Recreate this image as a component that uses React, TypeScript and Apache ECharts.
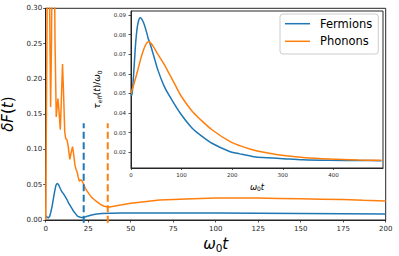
import React, { useEffect, useRef } from "react";
import * as echarts from "echarts";

// ---- Main plot data: deltaF(t) ----
const fermT = [0, 0.8, 1.5, 2.3, 3, 3.8, 4.5, 5.3, 6, 6.8, 7.6, 8.5, 9.5, 10.5, 11.5, 12.5, 13.5, 14.5, 15.5, 16.5, 17.5, 18.5, 19.5, 20.5, 21.5, 22.5, 23.5, 25, 27, 30, 33, 38, 45, 55, 67, 80, 100, 125, 150, 175, 200];
const fermF = [0.006, 0.004, 0.003, 0.005, 0.011, 0.02, 0.03, 0.041, 0.049, 0.052, 0.05, 0.045, 0.04, 0.037, 0.033, 0.029, 0.024, 0.02, 0.016, 0.012, 0.009, 0.006, 0.0045, 0.004, 0.0037, 0.0037, 0.0045, 0.0058, 0.0072, 0.0085, 0.0092, 0.0096, 0.0098, 0.0099, 0.01, 0.01, 0.0098, 0.0095, 0.0092, 0.0089, 0.0086];

const phonT = [0, 0.7, 1.2, 2.0, 2.5, 2.9, 3.4, 4.0, 4.8, 5.5, 6.2, 6.7, 7.2, 7.8, 8.6, 9.2, 9.9, 10.5, 11.2, 11.8, 12.5, 13.2, 14.2, 15.0, 15.8, 16.5, 17.2, 17.8, 18.5, 19.2, 19.8, 20.5, 21.2, 22.1, 23.1, 24.1, 25.5, 27, 28.5, 30, 32, 34, 36.8, 40, 45, 50, 58, 67, 75, 87, 100, 112, 125, 137, 150, 162, 175, 187, 200];
const phonF = [0.0, 0.25, 0.42, 0.4, 0.25, 0.16, 0.25, 0.45, 0.45, 0.25, 0.146, 0.16, 0.172, 0.155, 0.128, 0.17, 0.221, 0.18, 0.125, 0.115, 0.114, 0.105, 0.086, 0.096, 0.104, 0.092, 0.078, 0.072, 0.068, 0.06, 0.055, 0.057, 0.056, 0.052, 0.046, 0.042, 0.037, 0.032, 0.029, 0.026, 0.0225, 0.0198, 0.018, 0.0195, 0.0215, 0.0236, 0.026, 0.0283, 0.029, 0.03, 0.031, 0.031, 0.031, 0.0305, 0.03, 0.0295, 0.029, 0.028, 0.027];

// dashed markers (time, top value)
const fermDashT = 22.35;
const phonDashT = 36.5;
const dashBottom = -0.004;
const dashTop = 0.137;

// ---- Inset data: tau_eff(t)/omega_0 ----
const insFermT = [0, 1.5, 3, 5, 7, 9, 12, 15, 18, 21, 24, 27, 31, 34, 37.5, 44, 53, 65, 76, 97, 120, 136, 160, 196, 215, 240, 260, 294, 340, 393, 450, 495];
const insFerm = [0.05, 0.049, 0.052, 0.059, 0.067, 0.075, 0.083, 0.087, 0.0885, 0.088, 0.0865, 0.0845, 0.081, 0.078, 0.0754, 0.07, 0.062, 0.054, 0.0487, 0.04, 0.0325, 0.029, 0.0246, 0.0203, 0.0192, 0.0179, 0.0173, 0.0169, 0.0162, 0.0159, 0.0158, 0.0157];
const insPhonT = [0, 4, 8, 12, 16, 20, 24, 28, 32, 35, 38, 44, 53, 65, 76, 88, 99, 120, 136, 160, 196, 215, 240, 260, 294, 340, 393, 450, 495];
const insPhon = [0.05, 0.0533, 0.0568, 0.0605, 0.0645, 0.0683, 0.0716, 0.0743, 0.0759, 0.0763, 0.0759, 0.074, 0.07, 0.065, 0.0598, 0.054, 0.0487, 0.0412, 0.037, 0.0315, 0.0254, 0.0234, 0.0213, 0.0201, 0.0186, 0.0174, 0.0166, 0.0161, 0.0159];

// tick values
const insXTicks = [0, 100, 200, 300, 400];
const insYTicks = [0.02, 0.03, 0.04, 0.05, 0.06, 0.07, 0.08, 0.09];

const BLUE = "#1f77b4";
const ORANGE = "#ff7f0e";
const INK = "#262626";
const FONT = "DejaVu Sans";

const pairs = (xs: number[], ys: number[]) => xs.map((x, i) => [x, ys[i]]);

export default function App() {
  const ref = useRef<HTMLDivElement>(null);
  useEffect(() => {
    if (!ref.current) return;
    const chart = echarts.init(ref.current, null, { renderer: "svg" });
    const axisCommon = {
      axisLine: { show: true, onZero: false, lineStyle: { color: INK, width: 1 } },
      axisTick: { show: true, inside: false, length: 2.5, lineStyle: { color: INK, width: 0.8 } },
      splitLine: { show: false },
    };
    chart.setOption({
      animation: false,
      backgroundColor: "#ffffff",
      textStyle: { fontFamily: FONT },
      grid: [
        { left: 45.7, top: 8.3, width: 340, height: 211.7, show: true, borderColor: INK, borderWidth: 1, backgroundColor: "transparent", outerBoundsMode: "none" },
        { left: 131, top: 11, width: 252, height: 157, show: true, borderColor: INK, borderWidth: 1, backgroundColor: "#ffffff", z: 5, outerBoundsMode: "none" },
      ],
      xAxis: [
        {
          ...axisCommon,
          gridIndex: 0,
          type: "value",
          min: 0,
          max: 200,
          interval: 25,
          axisLabel: { color: INK, fontSize: 7, margin: 5, fontFamily: FONT },
          name: "{i|ω}{s|0}{i|t}",
          nameLocation: "middle",
          nameGap: 11,
          nameTextStyle: {
            rich: {
              i: { fontSize: 15, fontStyle: "italic", fontFamily: FONT, color: "#000", lineHeight: 18 },
              s: { fontSize: 10.5, fontFamily: FONT, color: "#000", verticalAlign: "bottom", lineHeight: 10 },
            },
          },
        },
        {
          ...axisCommon,
          gridIndex: 1,
          type: "value",
          min: 0,
          max: 498,
          z: 6,
          axisLabel: { color: INK, fontSize: 5.5, margin: 3.5, fontFamily: FONT, customValues: insXTicks },
          axisTick: { ...axisCommon.axisTick, length: 2, customValues: insXTicks },
          name: "{i|ω}{s|0}{i|t}",
          nameLocation: "middle",
          nameGap: 10,
          nameTextStyle: {
            rich: {
              i: { fontSize: 8.5, fontStyle: "italic", fontFamily: FONT, color: "#000", lineHeight: 10 },
              s: { fontSize: 6, fontFamily: FONT, color: "#000", verticalAlign: "bottom", lineHeight: 6 },
            },
          },
        },
      ],
      yAxis: [
        {
          ...axisCommon,
          gridIndex: 0,
          type: "value",
          min: 0,
          max: 0.3,
          interval: 0.05,
          axisLabel: { color: INK, fontSize: 7, margin: 3.5, fontFamily: FONT, formatter: (v: number) => v.toFixed(2) },
          name: "{i|δF}{n|(}{i|t}{n|)}",
          nameLocation: "middle",
          nameRotate: 90,
          nameGap: 25,
          nameTextStyle: {
            rich: {
              i: { fontSize: 15, fontStyle: "italic", fontFamily: FONT, color: "#000" },
              n: { fontSize: 15, fontFamily: FONT, color: "#000" },
            },
          },
        },
        {
          ...axisCommon,
          gridIndex: 1,
          type: "value",
          min: 0.012,
          max: 0.092,
          z: 6,
          axisLabel: { color: INK, fontSize: 5.5, margin: 5, fontFamily: FONT, customValues: insYTicks, formatter: (v: number) => v.toFixed(2) },
          axisTick: { ...axisCommon.axisTick, length: 2.5, customValues: insYTicks },
          name: "{i|τ}{s|eff}{n|(}{i|t}{n|)/}{i|ω}{z|0}",
          nameLocation: "middle",
          nameRotate: 90,
          nameGap: 19,
          nameTextStyle: {
            rich: {
              i: { fontSize: 9, fontStyle: "italic", fontFamily: FONT, color: "#000", lineHeight: 11 },
              n: { fontSize: 9, fontFamily: FONT, color: "#000", lineHeight: 11 },
              s: { fontSize: 6, fontStyle: "italic", fontFamily: FONT, color: "#000", verticalAlign: "bottom", lineHeight: 6 },
              z: { fontSize: 6, fontFamily: FONT, color: "#000", verticalAlign: "bottom", lineHeight: 6 },
            },
          },
        },
      ],
      legend: {
        show: true,
        data: ["Fermions", "Phonons"],
        orient: "vertical",
        left: 280,
        top: 14,
        padding: [2.7, 6, 5.7, 5],
        itemGap: 3.6,
        itemWidth: 25,
        itemHeight: 1.5,
        icon: "rect",
        backgroundColor: "rgba(255,255,255,0.85)",
        borderColor: "#cccccc",
        borderWidth: 1,
        borderRadius: 3,
        z: 20,
        textStyle: { fontSize: 11.5, fontFamily: FONT, color: "#000", lineHeight: 14, padding: [0, 0, 0, 5] },
      },
      series: [
        {
          name: "Fermions", type: "line", xAxisIndex: 0, yAxisIndex: 0, data: pairs(fermT, fermF),
          showSymbol: false, symbol: "none", smooth: false, color: BLUE, lineStyle: { color: BLUE, width: 1.5 }, z: 2,
        },
        {
          name: "Phonons", type: "line", xAxisIndex: 0, yAxisIndex: 0, data: pairs(phonT, phonF),
          showSymbol: false, symbol: "none", smooth: false, color: ORANGE, lineStyle: { color: ORANGE, width: 1.5 }, z: 2, clip: true,
        },
        {
          name: "fermDash", type: "line", xAxisIndex: 0, yAxisIndex: 0, data: [[fermDashT, dashBottom], [fermDashT, dashTop]],
          symbol: "none", clip: false, silent: true, lineStyle: { color: BLUE, width: 2, type: [7, 3.5] }, z: 3,
        },
        {
          name: "phonDash", type: "line", xAxisIndex: 0, yAxisIndex: 0, data: [[phonDashT, dashBottom], [phonDashT, dashTop]],
          symbol: "none", clip: false, silent: true, lineStyle: { color: ORANGE, width: 2, type: [7, 3.5] }, z: 3,
        },
        {
          name: "Fermions", type: "line", xAxisIndex: 1, yAxisIndex: 1, data: pairs(insFermT, insFerm),
          showSymbol: false, symbol: "none", smooth: 0.3, color: BLUE, lineStyle: { color: BLUE, width: 1.5 }, z: 8,
        },
        {
          name: "Phonons", type: "line", xAxisIndex: 1, yAxisIndex: 1, data: pairs(insPhonT, insPhon),
          showSymbol: false, symbol: "none", smooth: 0.3, color: ORANGE, lineStyle: { color: ORANGE, width: 1.5 }, z: 8,
        },
      ],
    });
    return () => chart.dispose();
  }, []);
  return <div ref={ref} style={{ position: "fixed", left: 0, top: 0, width: 399, height: 256 }} />;
}
